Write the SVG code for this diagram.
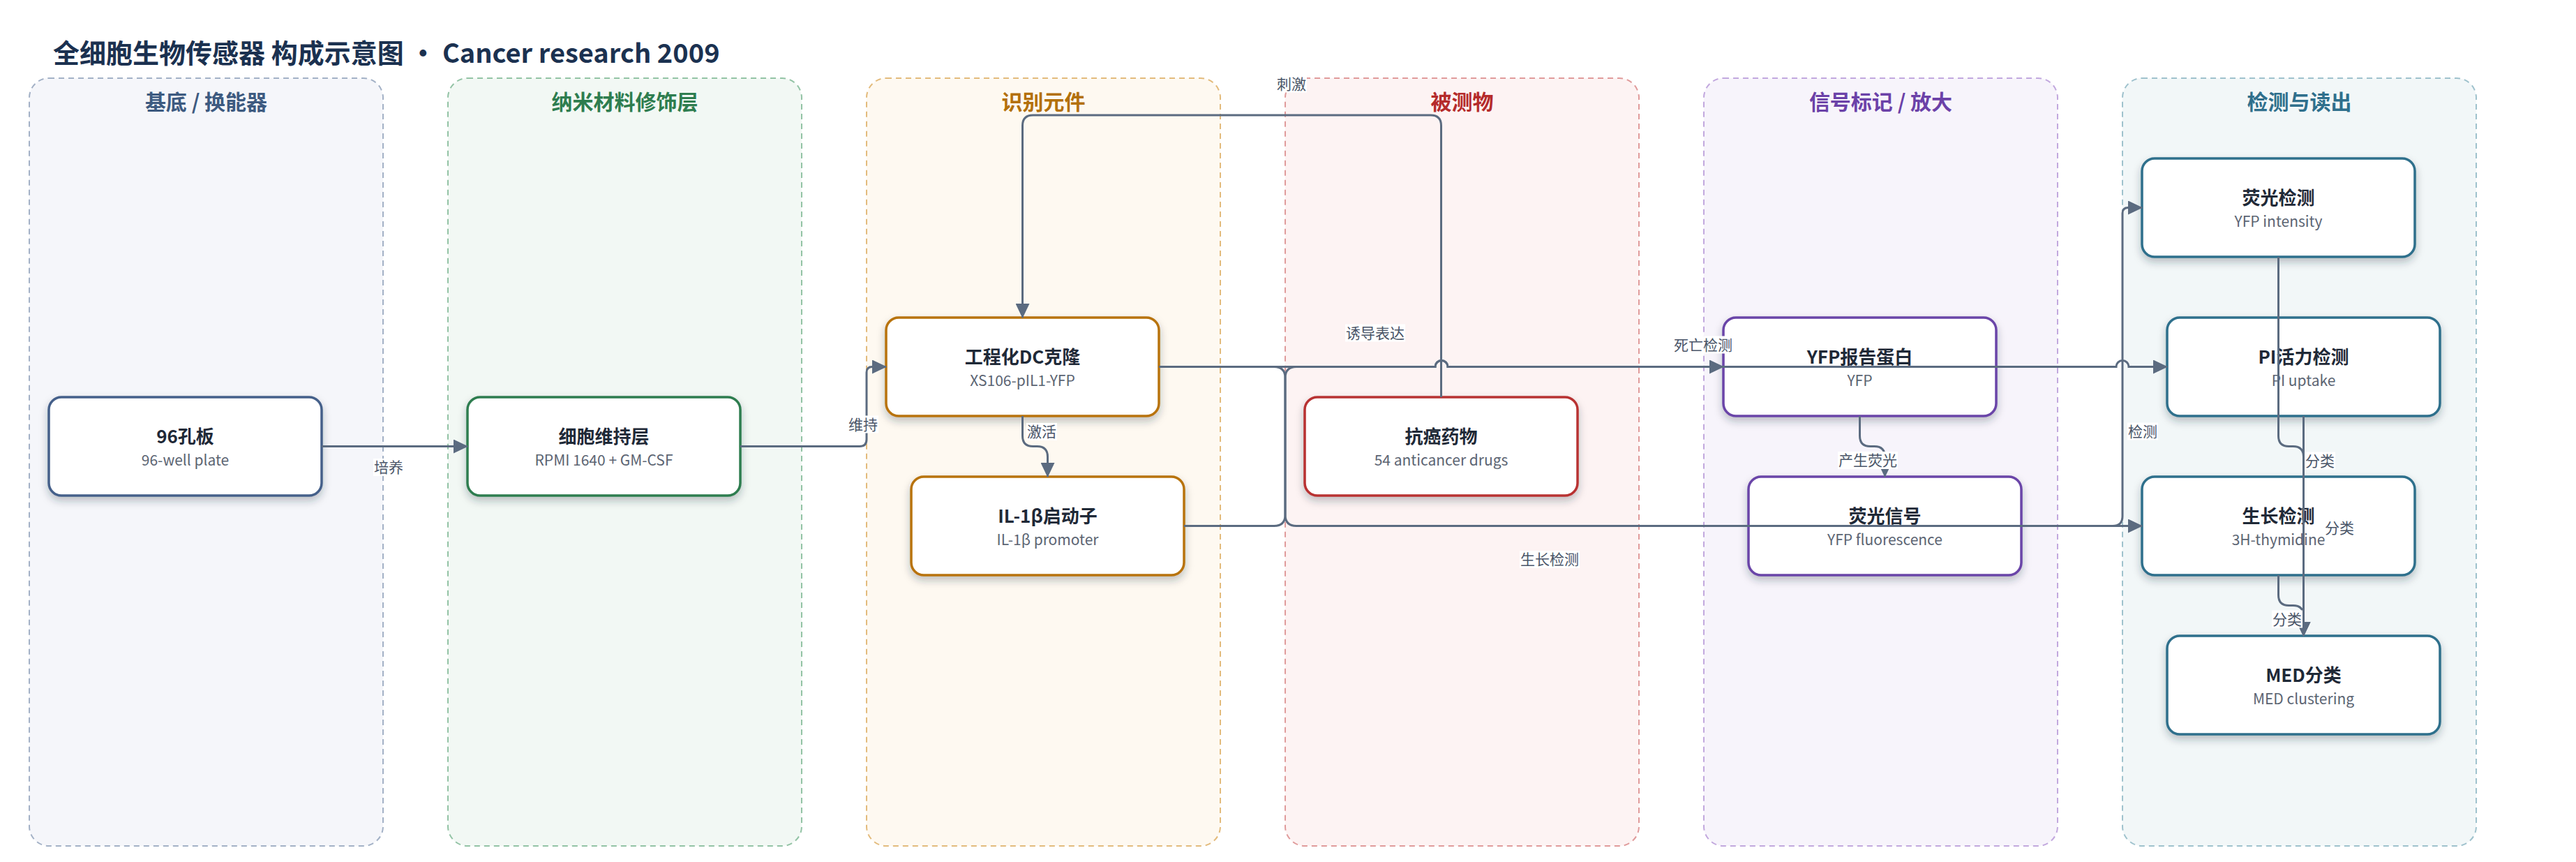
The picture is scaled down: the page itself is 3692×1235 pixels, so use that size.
<svg xmlns="http://www.w3.org/2000/svg" width="3692" height="1235" viewBox="0 0 3692 1235">
<defs>
<style>
text{font-family:"Noto Sans CJK SC","Noto Sans",sans-serif}
.lane{stroke-width:2;stroke-dasharray:8 6}
.lt{font-size:30px;font-weight:700;text-anchor:middle}
.node rect{fill:#fff;stroke-width:3.5}
.nt{font-size:26px;font-weight:700;fill:#1f2937;text-anchor:middle}
.ns{font-size:21px;fill:#5b6472;text-anchor:middle}
.edge{fill:none;stroke:#5b6b80;stroke-width:3}
.lbg{fill:#fff}
.lbl{font-size:21px;fill:#4a5568;text-anchor:middle}
</style>
<filter id="sh" x="-20%" y="-20%" width="140%" height="160%">
<feDropShadow dx="0" dy="6" stdDeviation="6" flood-color="#1e293b" flood-opacity="0.28"/>
</filter>
<marker id="arr" viewBox="0 0 21 20" refX="20" refY="10" markerWidth="21" markerHeight="20" markerUnits="userSpaceOnUse" orient="auto">
<path d="M0,0 L21,10 L0,20 z" fill="#5b6b80"/>
</marker>
</defs>
<rect width="3692" height="1235" fill="#fff"/>
<text x="76" y="90" font-size="38" font-weight="700" fill="#1b3150">全细胞生物传感器 构成示意图 · Cancer research 2009</text>

<g id="lanes">
<rect class="lane" x="42" y="112" width="507" height="1100" rx="28" fill="#f5f6fa" stroke="#a3b1c6"/>
<text class="lt" x="295.5" y="157" fill="#3d5a80">基底 / 换能器</text>
<rect class="lane" x="642" y="112" width="507" height="1100" rx="28" fill="#f2f8f4" stroke="#93c3a5"/>
<text class="lt" x="895.5" y="157" fill="#2e7d4f">纳米材料修饰层</text>
<rect class="lane" x="1242" y="112" width="507" height="1100" rx="28" fill="#fef9f1" stroke="#e3bb7c"/>
<text class="lt" x="1495.5" y="157" fill="#b3700a">识别元件</text>
<rect class="lane" x="1842" y="112" width="507" height="1100" rx="28" fill="#fdf3f3" stroke="#e09b9b"/>
<text class="lt" x="2095.5" y="157" fill="#b52b2b">被测物</text>
<rect class="lane" x="2442" y="112" width="507" height="1100" rx="28" fill="#f7f4fb" stroke="#c2a8de"/>
<text class="lt" x="2695.5" y="157" fill="#6b41a8">信号标记 / 放大</text>
<rect class="lane" x="3042" y="112" width="507" height="1100" rx="28" fill="#f2f7f8" stroke="#9fc2cd"/>
<text class="lt" x="3295.5" y="157" fill="#2f6f8c">检测与读出</text>
</g>

<g id="n-plate" class="node"><rect x="70" y="569" width="391" height="141" rx="18" stroke="#45608a" filter="url(#sh)"/><text class="nt" x="265.5" y="635">96孔板</text><text class="ns" x="265.5" y="667">96-well plate</text></g>
<g id="n-maint" class="node"><rect x="670" y="569" width="391" height="141" rx="18" stroke="#2e7d4f" filter="url(#sh)"/><text class="nt" x="865.5" y="635">细胞维持层</text><text class="ns" x="865.5" y="667">RPMI 1640 + GM-CSF</text></g>
<g id="n-dc" class="node"><rect x="1270" y="455" width="391" height="141" rx="18" stroke="#b8730a" filter="url(#sh)"/><text class="nt" x="1465.5" y="521">工程化DC克隆</text><text class="ns" x="1465.5" y="553">XS106-pIL1-YFP</text></g>
<g id="n-il" class="node"><rect x="1306" y="683" width="391" height="141" rx="18" stroke="#b8730a" filter="url(#sh)"/><text class="nt" x="1501.5" y="749">IL-1β启动子</text><text class="ns" x="1501.5" y="781">IL-1β promoter</text></g>
<g id="n-drug" class="node"><rect x="1870" y="569" width="391" height="141" rx="18" stroke="#b83232" filter="url(#sh)"/><text class="nt" x="2065.5" y="635">抗癌药物</text><text class="ns" x="2065.5" y="667">54 anticancer drugs</text></g>
<g id="n-yfp" class="node"><rect x="2470" y="455" width="391" height="141" rx="18" stroke="#6a44a8" filter="url(#sh)"/><text class="nt" x="2665.5" y="521">YFP报告蛋白</text><text class="ns" x="2665.5" y="553">YFP</text></g>
<g id="n-fsig" class="node"><rect x="2506" y="683" width="391" height="141" rx="18" stroke="#6a44a8" filter="url(#sh)"/><text class="nt" x="2701.5" y="749">荧光信号</text><text class="ns" x="2701.5" y="781">YFP fluorescence</text></g>
<g id="n-fdet" class="node"><rect x="3070" y="227" width="391" height="141" rx="18" stroke="#2f6f8c" filter="url(#sh)"/><text class="nt" x="3265.5" y="293">荧光检测</text><text class="ns" x="3265.5" y="325">YFP intensity</text></g>
<g id="n-pi" class="node"><rect x="3106" y="455" width="391" height="141" rx="18" stroke="#2f6f8c" filter="url(#sh)"/><text class="nt" x="3301.5" y="521">PI活力检测</text><text class="ns" x="3301.5" y="553">PI uptake</text></g>
<g id="n-grow" class="node"><rect x="3070" y="683" width="391" height="141" rx="18" stroke="#2f6f8c" filter="url(#sh)"/><text class="nt" x="3265.5" y="749">生长检测</text><text class="ns" x="3265.5" y="781">3H-thymidine</text></g>
<g id="n-med" class="node"><rect x="3106" y="911" width="391" height="141" rx="18" stroke="#2f6f8c" filter="url(#sh)"/><text class="nt" x="3301.5" y="977">MED分类</text><text class="ns" x="3301.5" y="1009">MED clustering</text></g>

<g id="connectors">
<path class="edge" marker-end="url(#arr)" d="M461,639.5 H670"/>
<path class="edge" marker-end="url(#arr)" d="M1061,639.5 H1232 Q1242,639.5 1242,629.5 V533.5 Q1242,525.5 1250,525.5 H1270"/>
<path class="edge" marker-end="url(#arr)" d="M2065.5,569 V180 Q2065.5,165 2050.5,165 H1480.5 Q1465.5,165 1465.5,180 V455"/>
<path class="edge" marker-end="url(#arr)" d="M1465.5,596 V624.5 Q1465.5,639.5 1480.5,639.5 H1486.5 Q1501.5,639.5 1501.5,654.5 V683"/>
<path class="edge" marker-end="url(#arr)" d="M1697,753.5 H1826 Q1842,753.5 1842,737.5 V541.5 Q1842,525.5 1858,525.5 H2057 A9,9 0 0 1 2075,525.5 H2470"/>
<path class="edge" marker-end="url(#arr)" d="M1661,525.5 H2057 A9,9 0 0 1 2075,525.5 H3033 A9,9 0 0 1 3051,525.5 H3106"/>
<path class="edge" marker-end="url(#arr)" d="M1661,525.5 H1826 Q1842,525.5 1842,541.5 V737.5 Q1842,753.5 1858,753.5 H3070"/>
<path class="edge" marker-end="url(#arr)" d="M2665.5,596 V624.5 Q2665.5,639.5 2680.5,639.5 H2686.5 Q2701.5,639.5 2701.5,654.5 V683"/>
<path class="edge" marker-end="url(#arr)" d="M2897,753.5 H3028 Q3042,753.5 3042,739.5 V305.5 Q3042,297.5 3050,297.5 H3070"/>
<path class="edge" marker-end="url(#arr)" d="M3265.5,368 V624.5 Q3265.5,639.5 3280.5,639.5 H3286.5 Q3301.5,639.5 3301.5,654.5 V911"/>
<path class="edge" marker-end="url(#arr)" d="M3301.5,596 V911"/>
<path class="edge" marker-end="url(#arr)" d="M3265.5,824 V852.5 Q3265.5,867.5 3280.5,867.5 H3286.5 Q3301.5,867.5 3301.5,882.5 V911"/>
</g>

<g id="edge-labels">
<rect class="lbg" x="535" y="657" width="44" height="25"/><text class="lbl" x="557" y="677">培养</text>
<rect class="lbg" x="1215" y="595.5" width="44" height="25"/><text class="lbl" x="1237" y="615.5">维持</text>
<rect class="lbg" x="1829" y="107.5" width="44" height="25"/><text class="lbl" x="1851" y="127.5">刺激</text>
<rect class="lbg" x="1471" y="606" width="44" height="25"/><text class="lbl" x="1493" y="626">激活</text>
<rect class="lbg" x="1928" y="464.5" width="86" height="25"/><text class="lbl" x="1971" y="484.5">诱导表达</text>
<rect class="lbg" x="2398" y="481.5" width="86" height="25"/><text class="lbl" x="2441" y="501.5">死亡检测</text>
<rect class="lbg" x="2178" y="789" width="86" height="25"/><text class="lbl" x="2221" y="809">生长检测</text>
<rect class="lbg" x="2634" y="647" width="86" height="25"/><text class="lbl" x="2677" y="667">产生荧光</text>
<rect class="lbg" x="3049" y="605.5" width="44" height="25"/><text class="lbl" x="3071" y="625.5">检测</text>
<rect class="lbg" x="3303" y="647.5" width="44" height="25"/><text class="lbl" x="3325" y="667.5">分类</text>
<rect class="lbg" x="3331" y="743.5" width="44" height="25"/><text class="lbl" x="3353" y="763.5">分类</text>
<rect class="lbg" x="3256" y="874.5" width="44" height="25"/><text class="lbl" x="3278" y="894.5">分类</text>
</g>
</svg>
